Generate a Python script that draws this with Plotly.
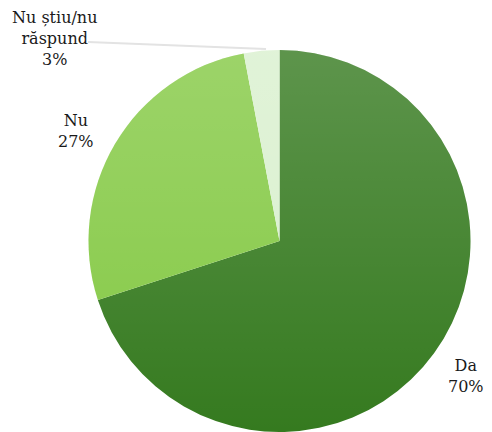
import base64
import plotly.graph_objects as go

# Survey answers
labels = ["Da", "Nu", "Nu știu/nu<br>răspund"]
values = [70, 27, 3]
colors = ["#357a1f", "#84c944", "#d9f0ce"]

W, H = 492, 432
cx, cy, r = 279.5, 241, 191  # pie centre / radius in pixels (from top-left)

fig = go.Figure(
    go.Pie(
        labels=labels,
        values=values,
        sort=False,
        direction="clockwise",
        rotation=0,
        marker=dict(colors=colors, line=dict(width=0)),
        textinfo="none",
        hoverinfo="label+percent",
        domain=dict(
            x=[max(0, (cx - r) / W), min(1, (cx + r) / W)],
            y=[max(0, (H - cy - r) / H), min(1, (H - cy + r) / H)],
        ),
        showlegend=False,
    )
)

# soft vertical light-to-clear sheen over the disc
svg = (
    '<svg xmlns="http://www.w3.org/2000/svg" width="400" height="400" viewBox="0 0 400 400">'
    '<defs><linearGradient id="g" x1="0" y1="0" x2="0" y2="1">'
    '<stop offset="0" stop-color="#ffffff" stop-opacity="0.2"/>'
    '<stop offset="1" stop-color="#ffffff" stop-opacity="0"/>'
    '</linearGradient></defs>'
    '<circle cx="200" cy="200" r="200" fill="url(#g)"/></svg>'
)
src = "data:image/svg+xml;base64," + base64.b64encode(svg.encode()).decode()
fig.add_layout_image(
    source=src, xref="paper", yref="paper",
    x=(cx - r) / W, y=1 - (cy - r) / H,
    sizex=2 * r / W, sizey=2 * r / H,
    xanchor="left", yanchor="top", sizing="stretch", layer="above",
)

# leader line for the small slice
fig.add_shape(
    type="line", xref="paper", yref="paper",
    x0=88 / W, y0=1 - 42 / H, x1=266 / W, y1=1 - 49 / H,
    line=dict(color="#e3e3e3", width=2),
)

font = dict(family="'DejaVu Serif', 'Liberation Serif', serif", size=16, color="#1a1a1a")
label_pos = [(466, 376), (76, 131), (54, 38)]
for lab, val, (px, py) in zip(labels, values, label_pos):
    fig.add_annotation(
        x=px / W, y=1 - py / H, xref="paper", yref="paper",
        text=f"{lab}<br>{val}%", showarrow=False, align="center",
        xanchor="center", yanchor="middle", font=font,
    )

fig.update_layout(
    width=W, height=H,
    margin=dict(l=0, r=0, t=0, b=0),
    paper_bgcolor="white", plot_bgcolor="white",
)
fig.write_html("out.html")
